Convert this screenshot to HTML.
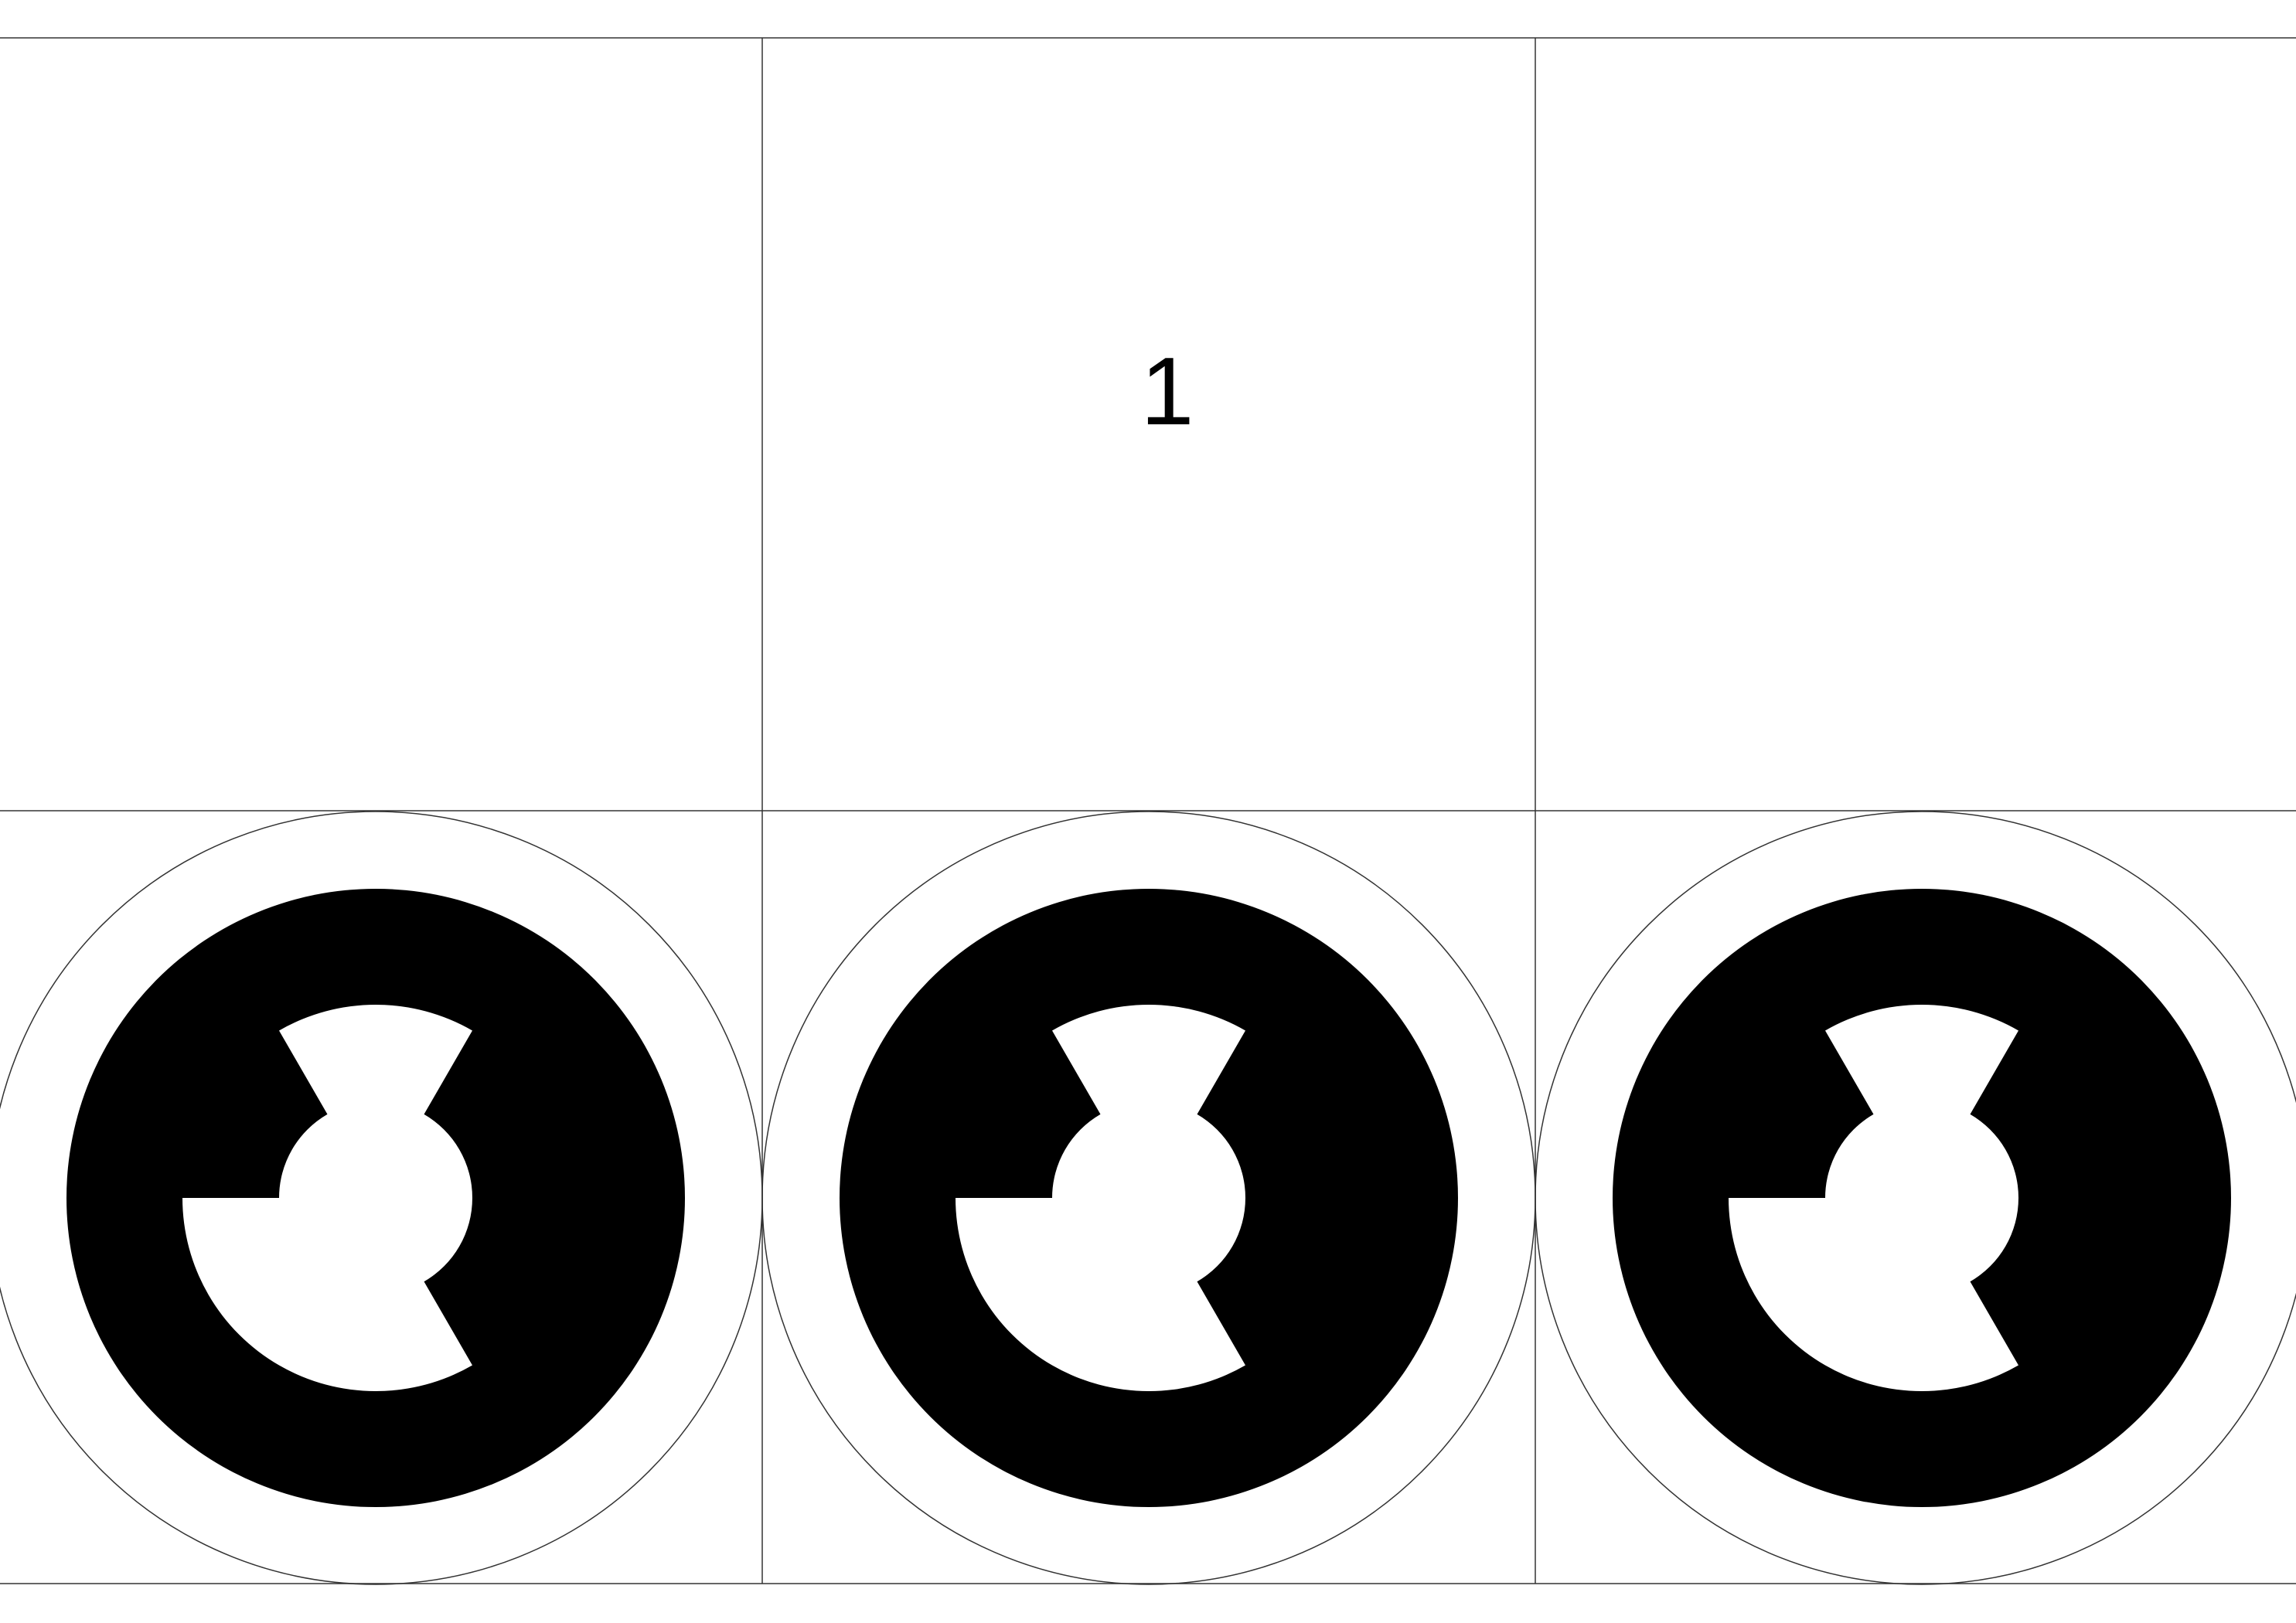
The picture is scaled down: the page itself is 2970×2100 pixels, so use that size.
<!DOCTYPE html>
<html><head><meta charset="utf-8"><style>
html,body{margin:0;padding:0;background:#fff;}
svg{display:block;}
</style></head><body>
<svg width="2970" height="2100" viewBox="0 0 2970 2100">
<g id="grid" stroke="#333" stroke-width="1.5"></g>
<text x="1510" y="549" style="font-family:'Liberation Sans', Arial, sans-serif;font-size:124px" text-anchor="middle" fill="#000">1</text>
<g id="symbols"></g>
</svg>
<script>
const ns='http://www.w3.org/2000/svg';
const grid=document.getElementById('grid');
const hY=[49,1049,2049];
const vX=[986,1986];
hY.forEach(y=>{const l=document.createElementNS(ns,'line');
l.setAttribute('x1',0);l.setAttribute('x2',2970);l.setAttribute('y1',y);l.setAttribute('y2',y);


grid.appendChild(l);});
vX.forEach(x=>{const l=document.createElementNS(ns,'line');
l.setAttribute('y1',49);l.setAttribute('y2',2049);l.setAttribute('x1',x);l.setAttribute('x2',x);


grid.appendChild(l);});
const centersX=[486,1486,2486];
const cy=1550;
const sym=document.getElementById('symbols');
function pt(cx,r,deg){const a=deg*Math.PI/180;return [(cx+r*Math.cos(a)).toFixed(2),(cy-r*Math.sin(a)).toFixed(2)];}
centersX.forEach(cx=>{
 const g=document.createElementNS(ns,'g');
 
 
 const o=document.createElementNS(ns,'circle');
 o.setAttribute('cx',cx);o.setAttribute('cy',cy);o.setAttribute('r',500);o.setAttribute('fill','none');o.setAttribute('stroke','#333');o.setAttribute('stroke-width','1.5');
 
 
 g.appendChild(o);
 const d=document.createElementNS(ns,'circle');
 d.setAttribute('cx',cx);d.setAttribute('cy',cy);d.setAttribute('r',400);d.setAttribute('fill','#000');
 
 
 g.appendChild(d);
 const R=250,r=125;
 const a=pt(cx,R,60),b=pt(cx,R,120),c=pt(cx,r,120),e=pt(cx,r,180),f=pt(cx,R,180),h=pt(cx,R,300),i=pt(cx,r,300),j=pt(cx,r,60);
 const p=`M${a} A${R},${R} 0 0 0 ${b} L${c} A${r},${r} 0 0 0 ${e} L${f} A${R},${R} 0 0 0 ${h} L${i} A${r},${r} 0 0 0 ${j} Z`;
 const w=document.createElementNS(ns,'path');
 w.setAttribute('d',p);w.setAttribute('fill','#fff');
 
 
 g.appendChild(w);
 sym.appendChild(g);
});
</script>
</body></html>
